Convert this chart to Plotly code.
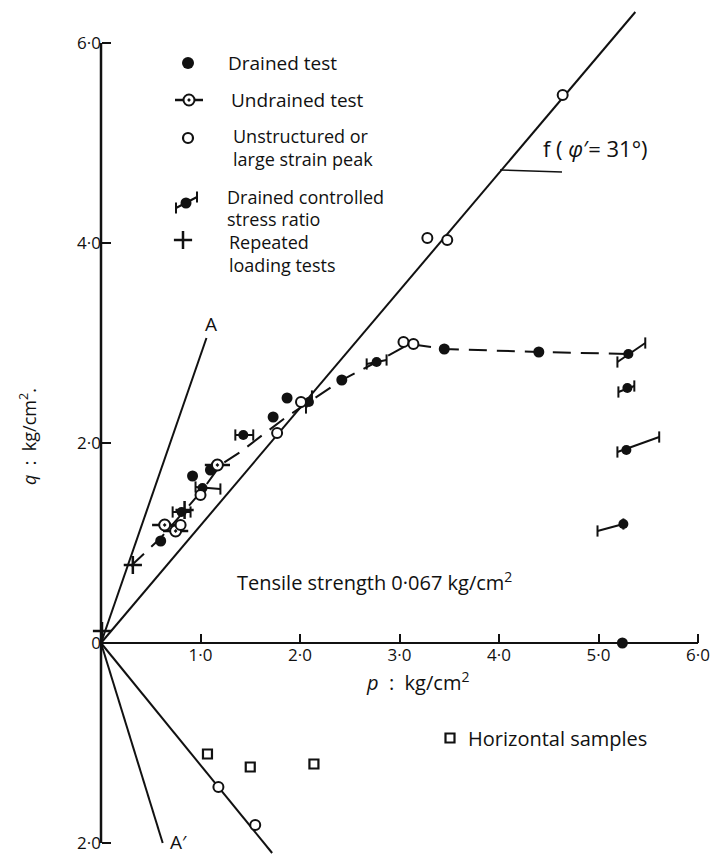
import plotly.graph_objects as go

# ---------------- data (p, q in kg/cm2) ----------------
drained_p = [0.60, 0.92, 1.10, 1.73, 1.87, 2.42, 3.45, 4.40, 5.24]
drained_q = [1.02, 1.67, 1.73, 2.26, 2.45, 2.63, 2.94, 2.91, 0.00]

undrained_p = [1.17, 0.64, 0.75]
undrained_q = [1.78, 1.18, 1.12]

unstructured_p = [0.80, 1.00, 1.77, 2.01, 3.04, 3.14, 3.28, 3.48, 4.64, 1.18, 1.55]
unstructured_q = [1.18, 1.48, 2.10, 2.41, 3.01, 2.99, 4.05, 4.03, 5.48, -1.44, -1.82]

ratio_p = [0.81, 1.02, 1.43, 2.09, 2.77, 5.30, 5.29, 5.28, 5.25]
ratio_q = [1.31, 1.55, 2.08, 2.41, 2.81, 2.89, 2.55, 1.93, 1.19]
# stress path bars (start p, start q, end p, end q)
bar_p0 = [0.72, 0.95, 1.35, 2.06, 2.67, 5.19, 5.20, 5.19, 4.99]
bar_q0 = [1.31, 1.56, 2.08, 2.35, 2.79, 2.81, 2.51, 1.91, 1.12]
bar_p1 = [0.90, 1.20, 1.53, 2.12, 2.87, 5.47, 5.36, 5.61, 5.25]
bar_q1 = [1.31, 1.54, 2.08, 2.47, 2.83, 3.00, 2.57, 2.06, 1.19]

repeated_p = [0.01, 0.32, 0.84]
repeated_q = [0.12, 0.78, 1.33]

horizontal_p = [1.07, 1.50, 2.14]
horizontal_q = [-1.11, -1.24, -1.21]

curve_p = [0.30, 0.60, 0.82, 1.02, 1.20, 1.40, 1.65, 1.85, 2.09, 2.42, 2.77, 3.10, 3.45, 4.40, 5.30]
curve_q = [0.77, 1.05, 1.30, 1.53, 1.78, 1.91, 2.10, 2.25, 2.41, 2.63, 2.81, 2.99, 2.94, 2.91, 2.89]

f_line_p = [0.0, 5.37]
f_line_q = [0.0, 6.31]
f_ext_p = [0.0, 1.72]
f_ext_q = [0.0, -2.10]
A_p = [0.0, 1.06]
A_q = [0.0, 3.05]
A2_p = [0.0, 0.62]
A2_q = [0.0, -2.00]

x_ticks = [1, 2, 3, 4, 5, 6]
x_ticktext = ["1·0", "2·0", "3·0", "4·0", "5·0", "6·0"]
y_ticks = [-2, 0, 2, 4, 6]
y_ticktext = ["2·0", "0", "2·0", "4·0", "6·0"]

# ---------------- layout geometry ----------------
W, H = 710, 857
ML, MR = 60, 5
PW = W - ML - MR
X0PX, PXU = 101, 99.5   # pixel of p=0, pixels per unit
Y0PX, PYU = 643, 100
xr = [-(X0PX - ML) / PXU, (W - MR - X0PX) / PXU]
yr = [-(H - Y0PX) / PYU, Y0PX / PYU]


def X(px):
    return (px - X0PX) / PXU


def Y(py):
    return (Y0PX - py) / PYU


def PX(px):
    return (px - ML) / PW


def PY(py):
    return (H - py) / H


FONT = "Open Sans"
BLACK = "#111111"

fig = go.Figure()


def line(px_, qy_, width=2, dash=None):
    fig.add_trace(go.Scatter(x=px_, y=qy_, mode="lines", showlegend=False, hoverinfo="skip",
                             line=dict(color=BLACK, width=width, dash=dash)))


line(f_line_p, f_line_q)
line(f_ext_p, f_ext_q)
line(A_p, A_q)
line(A2_p, A2_q)
line(curve_p, curve_q, 2, "18px,10px")

# f leader
line([X(500), X(562)], [Y(170), Y(172)], 1.5)

# stress-path bars
for a, b, c, d in zip(bar_p0, bar_q0, bar_p1, bar_q1):
    fig.add_trace(go.Scatter(x=[a, c], y=[b, d], mode="lines+markers", showlegend=False, hoverinfo="skip",
                             line=dict(color=BLACK, width=2),
                             marker=dict(symbol="line-ns", size=8, line=dict(color=BLACK, width=2))))

fig.add_trace(go.Scatter(x=drained_p, y=drained_q, mode="markers", showlegend=False,
                         marker=dict(symbol="circle", size=11, color=BLACK)))
fig.add_trace(go.Scatter(x=ratio_p, y=ratio_q, mode="markers", showlegend=False,
                         marker=dict(symbol="circle", size=10, color=BLACK)))
fig.add_trace(go.Scatter(x=undrained_p, y=undrained_q, mode="markers", showlegend=False,
                         marker=dict(symbol="line-ew", size=18, line=dict(color=BLACK, width=2.5))))
fig.add_trace(go.Scatter(x=undrained_p, y=undrained_q, mode="markers", showlegend=False,
                         marker=dict(symbol="circle-dot", size=11, color="white", line=dict(color=BLACK, width=2))))
fig.add_trace(go.Scatter(x=unstructured_p, y=unstructured_q, mode="markers", showlegend=False,
                         marker=dict(symbol="circle", size=10, color="white", line=dict(color=BLACK, width=2))))
fig.add_trace(go.Scatter(x=repeated_p, y=repeated_q, mode="markers", showlegend=False,
                         marker=dict(symbol="cross-thin", size=13, line=dict(color=BLACK, width=2.5))))
fig.add_trace(go.Scatter(x=horizontal_p, y=horizontal_q, mode="markers", showlegend=False,
                         marker=dict(symbol="square", size=9, color="white", line=dict(color=BLACK, width=2.2))))

# ---------------- legend keys (drawn) ----------------
fig.add_trace(go.Scatter(x=[X(188)], y=[Y(63)], mode="markers", showlegend=False,
                         marker=dict(symbol="circle", size=12, color=BLACK)))
fig.add_trace(go.Scatter(x=[X(189)], y=[Y(100)], mode="markers", showlegend=False,
                         marker=dict(symbol="line-ew", size=20, line=dict(color=BLACK, width=2.5))))
fig.add_trace(go.Scatter(x=[X(189)], y=[Y(100)], mode="markers", showlegend=False,
                         marker=dict(symbol="circle-dot", size=11, color="white", line=dict(color=BLACK, width=2))))
fig.add_trace(go.Scatter(x=[X(188)], y=[Y(138)], mode="markers", showlegend=False,
                         marker=dict(symbol="circle", size=10, color="white", line=dict(color=BLACK, width=2.2))))
fig.add_trace(go.Scatter(x=[X(176), X(197)], y=[Y(208), Y(197)], mode="lines+markers", showlegend=False,
                         line=dict(color=BLACK, width=2),
                         marker=dict(symbol="line-ns", size=8, line=dict(color=BLACK, width=2))))
fig.add_trace(go.Scatter(x=[X(186)], y=[Y(203)], mode="markers", showlegend=False,
                         marker=dict(symbol="circle", size=11, color=BLACK)))
fig.add_trace(go.Scatter(x=[X(183)], y=[Y(240)], mode="markers", showlegend=False,
                         marker=dict(symbol="cross-thin", size=13, line=dict(color=BLACK, width=2.5))))
fig.add_trace(go.Scatter(x=[X(450)], y=[Y(738)], mode="markers", showlegend=False,
                         marker=dict(symbol="square", size=9, color="white", line=dict(color=BLACK, width=2.2))))

anns = []


def txt(text, px, py, size=18, xanchor="left", angle=0):
    anns.append(dict(text=text, x=PX(px), y=PY(py), xref="paper", yref="paper", showarrow=False,
                     xanchor=xanchor, yanchor="middle", textangle=angle, align="left",
                     font=dict(family=FONT, size=size, color=BLACK)))


txt("Drained test", 226, 63, 19)
txt("Undrained test", 229, 100, 19)
txt("Unstructured or", 231, 136)
txt("large strain peak", 231, 159)
txt("Drained controlled", 225, 197)
txt("stress ratio", 225, 219)
txt("Repeated", 227, 242)
txt("loading tests", 227, 265)
txt("Horizontal samples", 466, 738, 20)
txt("Tensile strength 0·067 kg/cm<sup>2</sup>", 374, 581, 20, "center")
txt("<i>p</i>  :  kg/cm<sup>2</sup>", 417, 681, 20, "center")
txt("f ( <i>φ</i>′= 31°)", 595, 148, 22, "center")
txt("A", 211, 324, 19, "center")
txt("A′", 178, 842, 19, "center")
txt("<i>q</i>  :  kg/cm<sup>2</sup>.", 28, 437, 18, "center", -90)

fig.update_layout(
    width=W, height=H,
    margin=dict(l=ML, r=MR, t=0, b=0),
    paper_bgcolor="white", plot_bgcolor="white",
    font=dict(family=FONT, color=BLACK),
    annotations=anns,
    shapes=[
        dict(type="line", xref="x", yref="y", x0=0, y0=-2, x1=0, y1=6, line=dict(color=BLACK, width=2.5)),
        dict(type="line", xref="x", yref="y", x0=0, y0=0, x1=6, y1=0, line=dict(color=BLACK, width=2)),
    ],
    xaxis=dict(range=xr, anchor="free", position=(0 - yr[0]) / (yr[1] - yr[0]),
               showgrid=False, zeroline=False, showline=False, automargin=False,
               tickvals=x_ticks, ticktext=x_ticktext, ticks="inside", ticklen=9, tickwidth=2,
               tickcolor=BLACK, tickfont=dict(family=FONT, size=17, color=BLACK)),
    yaxis=dict(range=yr, anchor="free", position=(0 - xr[0]) / (xr[1] - xr[0]),
               showgrid=False, zeroline=False, showline=False, automargin=False,
               tickvals=y_ticks, ticktext=y_ticktext, ticks="inside", ticklen=9, tickwidth=2,
               tickcolor=BLACK, tickfont=dict(family=FONT, size=17, color=BLACK)),
)

fig.write_html("out.html")
